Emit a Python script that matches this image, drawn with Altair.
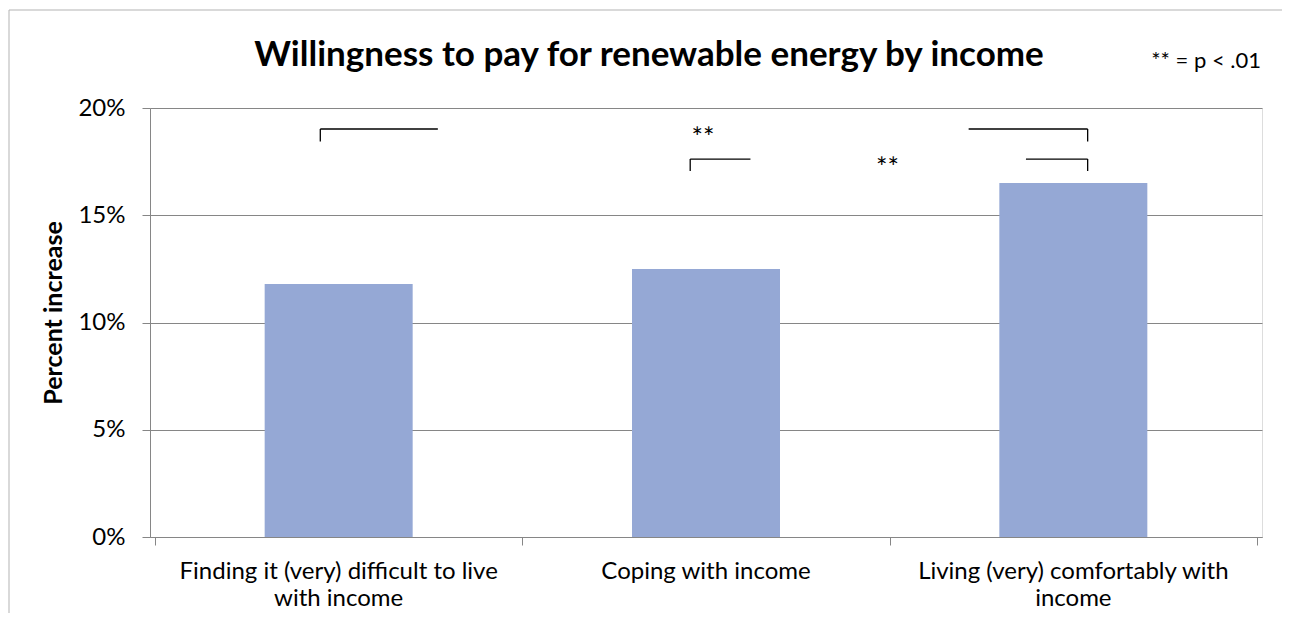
import altair as alt
import pandas as pd

# ---- data ----
categories = [
    "Finding it (very) difficult to live\nwith income",
    "Coping with income",
    "Living (very) comfortably with\nincome",
]
values = [0.118, 0.125, 0.165]
y_ticks = [0, 0.05, 0.10, 0.15, 0.20]
x_ticks = [0, 1, 2, 3]

# significance brackets (x in category units, y in percent-increase units)
bracket_h_x1 = [0.45, 2.215, 1.457, 2.371]
bracket_h_x2 = [0.77, 2.539, 1.621, 2.539]
bracket_h_y = [0.1902, 0.1902, 0.1762, 0.1762]
bracket_v_x = [0.45, 2.539, 1.457, 2.539]
bracket_v_y1 = [0.1902, 0.1902, 0.1762, 0.1762]
bracket_v_y2 = [0.1844, 0.1844, 0.1706, 0.1706]
star_x = [1.492, 1.994]
star_y = [0.1888, 0.1748]
star_text = ["**", "**"]

title_text = "Willingness to pay for renewable energy by income"
note_text = "** = p < .01"
y_title = "Percent increase"

W, H = 1112, 429
FONT = "Lato"
GRAY = "#868686"

bars_df = pd.DataFrame({
    "category": categories,
    "pos": [i + 0.5 for i in range(len(categories))],
    "value": values,
})
h_df = pd.DataFrame({"x": bracket_h_x1, "x2": bracket_h_x2, "y": bracket_h_y})
v_df = pd.DataFrame({"x": bracket_v_x, "y": bracket_v_y1, "y2": bracket_v_y2})
s_df = pd.DataFrame({"x": star_x, "y": star_y, "t": star_text})

xscale = alt.Scale(domain=[0, 3], nice=False, zero=False)
yscale = alt.Scale(domain=[0, 0.2], nice=False)

bars = alt.Chart(bars_df).mark_bar(size=148, color="#95A8D5").encode(
    x=alt.X("pos:Q", scale=xscale,
            axis=alt.Axis(values=x_ticks, labels=False, title=None, grid=False,
                          tickSize=8, tickColor=GRAY, domainColor=GRAY)),
    y=alt.Y("value:Q", scale=yscale,
            axis=alt.Axis(values=y_ticks, format=".0%", title=y_title,
                          grid=True, gridColor=GRAY, tickSize=8, tickColor=GRAY,
                          domainColor=GRAY, labelFont=FONT, labelFontSize=24,
                          labelColor="#000000", labelPadding=17,
                          titleFont=FONT, titleFontSize=25, titleFontWeight="bold",
                          titleColor="#000000", titleX=-97, titleY=H / 2 - 10,
                          titleBaseline="middle")),
)

cat_labels = alt.Chart(bars_df).mark_text(
    font=FONT, fontSize=24, baseline="top", align="center",
    lineBreak="\n", lineHeight=27, color="#000000",
).encode(
    x=alt.X("pos:Q", scale=xscale),
    y=alt.value(H + 23),
    text="category:N",
)

hrules = alt.Chart(h_df).mark_rule(color="#000000", strokeWidth=1.3).encode(
    x=alt.X("x:Q", scale=xscale), x2="x2:Q",
    y=alt.Y("y:Q", scale=yscale),
)
vrules = alt.Chart(v_df).mark_rule(color="#000000", strokeWidth=1.3).encode(
    x=alt.X("x:Q", scale=xscale),
    y=alt.Y("y:Q", scale=yscale), y2="y2:Q",
)
stars = alt.Chart(s_df).mark_text(
    font=FONT, fontSize=27, baseline="middle", align="center", color="#000000", dy=7,
).encode(
    x=alt.X("x:Q", scale=xscale),
    y=alt.Y("y:Q", scale=yscale),
    text="t:N",
)

title = alt.Chart(pd.DataFrame({"t": [title_text]})).mark_text(
    font=FONT, fontSize=35, fontWeight="bold", align="center", baseline="middle",
    color="#000000",
).encode(x=alt.value(499), y=alt.value(-53), text="t:N")

note = alt.Chart(pd.DataFrame({"t": [note_text]})).mark_text(
    font=FONT, fontSize=22, align="right", baseline="middle", color="#000000",
).encode(x=alt.value(W - 1), y=alt.value(-47), text="t:N")

frame_left = alt.Chart(pd.DataFrame({"a": [0]})).mark_rule(color="#B3B3B3", strokeWidth=1).encode(
    x=alt.value(-141), y=alt.value(-98), y2=alt.value(H + 120))
frame_top = alt.Chart(pd.DataFrame({"a": [0]})).mark_rule(color="#B3B3B3", strokeWidth=1).encode(
    x=alt.value(-141), x2=alt.value(W + 30), y=alt.value(-98))

chart = alt.layer(
    frame_left, frame_top, bars, cat_labels, hrules, vrules, stars, title, note
).properties(
    width=W, height=H,
    autosize=alt.AutoSizeParams(type="none"),
    padding={"left": 142, "top": 100, "right": 20, "bottom": 76},
).configure_view(stroke=None).configure(background="white")

chart.save("out.html", embed_options={"renderer": "svg", "actions": False})
